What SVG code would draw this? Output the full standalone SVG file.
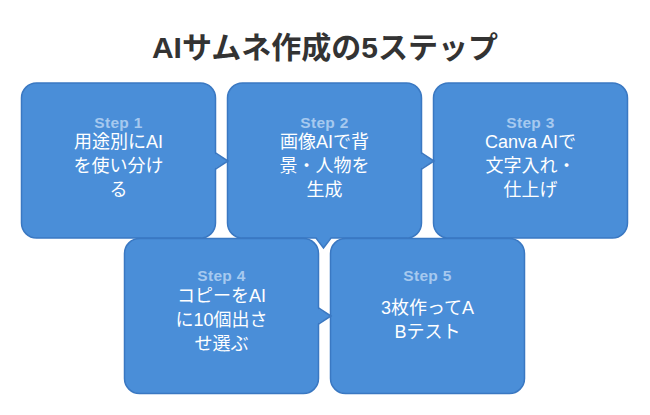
<svg xmlns="http://www.w3.org/2000/svg" width="650" height="415" viewBox="0 0 650 415">
<style>
.box{fill:#4a8ed8;stroke:#3a78c2;stroke-width:1.5}
.arr{fill:#4a8ed8;stroke:none}
.arrs{fill:none;stroke:#3a78c2;stroke-width:1.5}
.title{font-family:"Liberation Sans","Noto Sans CJK JP",sans-serif;font-size:30px;font-weight:bold;fill:#333333;text-anchor:middle}
.step{font-family:"Liberation Sans","Noto Sans CJK JP",sans-serif;font-size:15.5px;font-weight:bold;fill:#a6c9ef;text-anchor:middle;letter-spacing:0.3px}
.txt{font-family:"Liberation Sans","Noto Sans CJK JP",sans-serif;font-size:18px;fill:#ffffff;text-anchor:middle}
</style>
<rect width="650" height="415" fill="#ffffff"/>
<text class="title" x="325" y="58">AIサムネ作成の5ステップ</text>
<g id="node1">
<rect class="box" x="21.5" y="83" width="194" height="155" rx="15"/>
<text class="step" x="118.5" y="128">Step 1</text>
<text class="txt" x="118.5" y="148">用途別にAI</text>
<text class="txt" x="118.5" y="172">を使い分け</text>
<text class="txt" x="118.5" y="196">る</text>
</g>
<g id="node2">
<rect class="box" x="227.5" y="83" width="194" height="155" rx="15"/>
<text class="step" x="324.5" y="128">Step 2</text>
<text class="txt" x="324.5" y="148">画像AIで背</text>
<text class="txt" x="324.5" y="172">景・人物を</text>
<text class="txt" x="324.5" y="196">生成</text>
</g>
<g id="node3">
<rect class="box" x="433.5" y="83" width="194" height="155" rx="15"/>
<text class="step" x="530.5" y="128">Step 3</text>
<text class="txt" x="530.5" y="148">Canva AIで</text>
<text class="txt" x="530.5" y="172">文字入れ・</text>
<text class="txt" x="530.5" y="196">仕上げ</text>
</g>
<g id="node4">
<rect class="box" x="124.5" y="238.5" width="194" height="155" rx="15"/>
<text class="step" x="221.5" y="281">Step 4</text>
<text class="txt" x="221.5" y="302">コピーをAI</text>
<text class="txt" x="221.5" y="326">に10個出さ</text>
<text class="txt" x="221.5" y="350">せ選ぶ</text>
</g>
<g id="node5">
<rect class="box" x="330.5" y="238.5" width="194" height="155" rx="15"/>
<text class="step" x="427.5" y="281">Step 5</text>
<text class="txt" x="427.5" y="314">3枚作ってA</text>
<text class="txt" x="427.5" y="338">Bテスト</text>
</g>
<g id="connectors">
<polygon class="arr" points="214,153 228,161 214,169"/>
<polyline class="arrs" points="215.5,153 228,161 215.5,169"/>
<polygon class="arr" points="420,153 434,161 420,169"/>
<polyline class="arrs" points="421.5,153 434,161 421.5,169"/>
<polygon class="arr" points="316,237 323.5,248 331,237"/>
<polyline class="arrs" points="316,238 323.5,248 331,238"/>
<polygon class="arr" points="317,308 331,316 317,324"/>
<polyline class="arrs" points="318.5,308 331,316 318.5,324"/>
</g>
</svg>
